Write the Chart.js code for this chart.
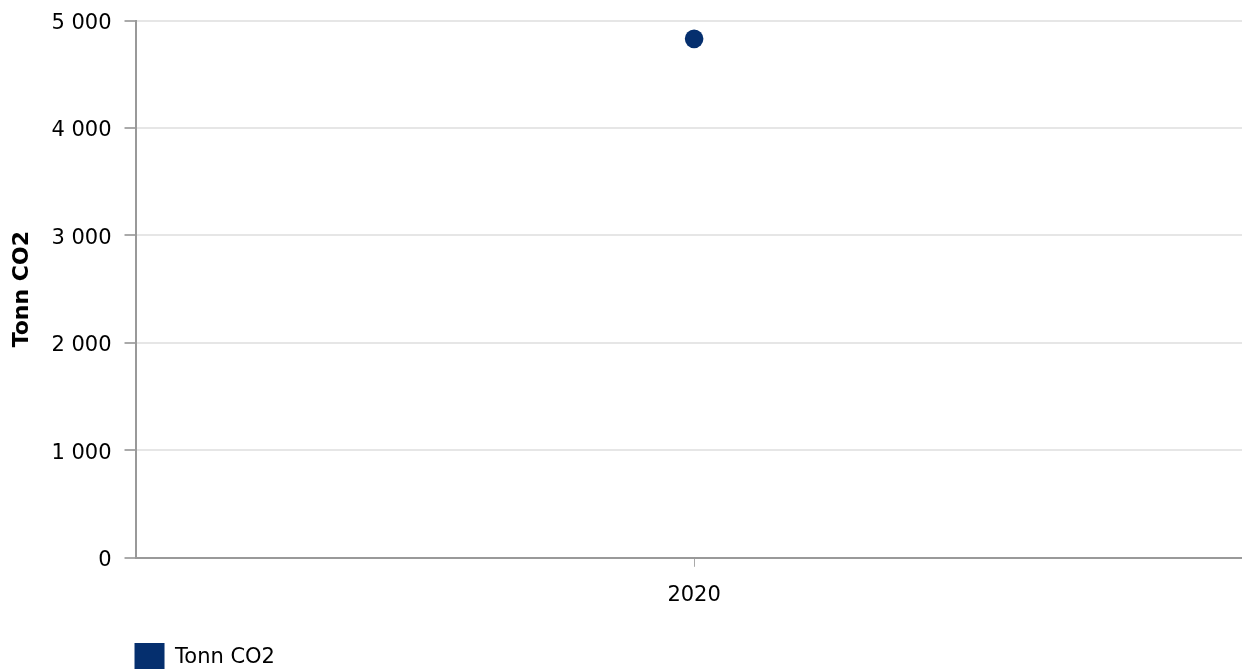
<!DOCTYPE html>
<html>
<head>
<script src="https://cdn.jsdelivr.net/npm/chart.js"></script>
<style>
  html, body { margin: 0; padding: 0; background: white; overflow: hidden; }
  #wrap { width: 1262px; height: 679px; margin-top: -5px; }
</style>
</head>
<body>
<div id="wrap"><canvas id="myChart"></canvas></div>
<script>
    const years = ['2020'];
    const tonnCO2 = [4830];
    const yTicks = [0, 1000, 2000, 3000, 4000, 5000];

    const fmt = v => String(v).replace(/\B(?=(\d{3})+(?!\d))/g, ' ');

    // line the legend up with the plot area and push it a bit lower, like the original
    const legendToArea = {
        id: 'legendToArea',
        afterLayout(chart) {
            chart.legend.left = chart.chartArea.left - 11;
            chart.legend.top += 9;
        }
    };

    Chart.defaults.font.family = '"DejaVu Sans", Verdana, sans-serif';
    Chart.defaults.font.size = 21;
    Chart.defaults.color = '#000';

    const ctx = document.getElementById('myChart').getContext('2d');
    new Chart(ctx, {
        type: 'line',
        data: {
            labels: years,
            datasets: [{
                label: 'Tonn CO2',
                data: tonnCO2,
                showLine: false,
                backgroundColor: '#052f6e',
                borderColor: '#052f6e',
                borderWidth: 0,
                pointRadius: 9.3,
                pointHoverRadius: 9.3,
                pointBorderWidth: 0
            }]
        },
        options: {
            responsive: true,
            maintainAspectRatio: false,
            animation: false,
            layout: { padding: { top: 3, left: 0, right: 0, bottom: 0 } },
            plugins: {
                legend: {
                    position: 'bottom',
                    align: 'start',
                    labels: {
                        boxWidth: 30,
                        boxHeight: 30,
                        padding: 10,
                        font: { size: 21 }
                    }
                },
                tooltip: { enabled: false }
            },
            scales: {
                x: {
                    offset: true,
                    grid: { display: true, drawOnChartArea: false, tickLength: 9, tickColor: '#aaa', offset: false },
                    border: { color: '#999', width: 2 },
                    ticks: { padding: 16 }
                },
                y: {
                    min: 0, max: 5000,
                    afterBuildTicks(axis) { axis.ticks = yTicks.map(v => ({ value: v })); },
                    grid: { color: '#e6e6e6', lineWidth: 2, tickLength: 11, tickColor: '#aaa' },
                    border: { color: '#999', width: 2 },
                    ticks: { padding: 13, labelOffset: 3, callback: v => fmt(v) },
                    title: { display: true, text: 'Tonn CO2', font: { size: 22, weight: 'bold' }, padding: { top: 9, bottom: 3 } }
                }
            }
        },
        plugins: [legendToArea]
    });
</script>
</body>
</html>
